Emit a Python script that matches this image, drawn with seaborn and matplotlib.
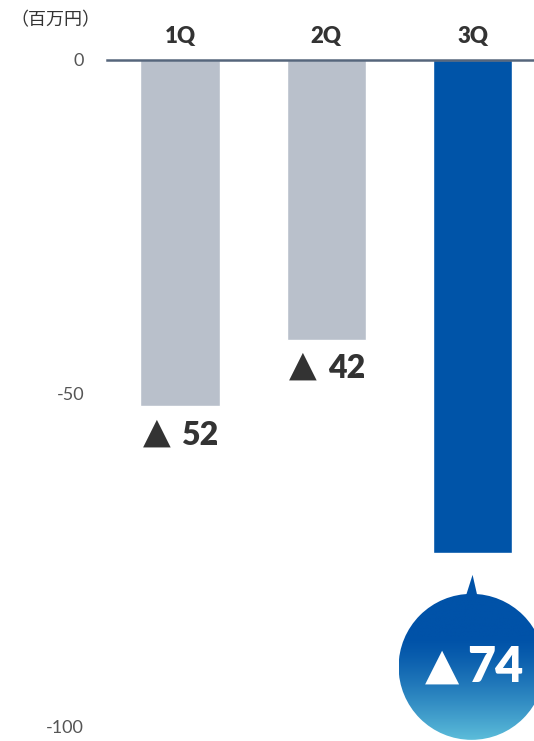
import matplotlib
matplotlib.use("Agg")
import matplotlib.pyplot as plt
import seaborn as sns
import numpy as np
from matplotlib.patches import Circle, Polygon

quarters = ["1Q", "2Q", "3Q"]
values = [-52, -42, -74]
label_nums = ["52", "42", "74"]
bar_colors = ["#b9c0cb", "#b9c0cb", "#0054a8"]
yticks = [0, -50, -100]
unit_label = "（百万円）"
neg_mark = "▲"

sns.set_theme(style="white")
plt.rcParams['font.family'] = ['Lato', 'DejaVu Sans']

W, H = 534, 741
fig = plt.figure(figsize=(W / 100, H / 100), dpi=100)
ax = fig.add_axes([107 / W, 0, 1 - 107 / W, 1 - 60 / H])

sns.barplot(x=quarters, y=values, hue=quarters, palette=bar_colors,
            width=0.545, legend=False, ax=ax, saturation=1)
ax.set_xlim(-0.5, 2.42)
ax.set_ylim(-102.25, 0)
ax.set_yticks(yticks)
ax.set_yticklabels([str(v) for v in yticks])
ax.set_xlabel("")
ax.set_ylabel("")
ax.xaxis.tick_top()
ax.tick_params(axis="x", length=0, pad=9, labelsize=16, labelcolor="#333333")
for t in ax.get_xticklabels():
    t.set_fontweight("heavy")
ax.tick_params(axis="y", length=0, pad=16.5, labelsize=13, labelcolor="#555555")
for s in ["left", "right", "bottom"]:
    ax.spines[s].set_visible(False)
ax.spines["top"].set_color("#56667c")
ax.spines["top"].set_linewidth(1.8)

# value labels under the gray bars
for i, (v, num) in enumerate(zip(values[:2], label_nums[:2])):
    ax.annotate(neg_mark, xy=(i, v), xytext=(-23.5, -26), textcoords="offset pixels",
                ha="center", va="center", fontsize=26, fontweight="bold",
                color="#333333", family=['DejaVu Sans'])
    ax.annotate(num, xy=(i, v), xytext=(20, -29), textcoords="offset pixels",
                ha="center", va="center", fontsize=23, fontweight="heavy",
                color="#333333", family=['Lato', 'DejaVu Sans'])

fig.text(10 / W, 1 - 20 / H, unit_label, ha="left", va="center", fontsize=13,
         color="#333333", family=['Noto Sans CJK JP', 'DejaVu Sans'])

# bubble for 3Q
fig.canvas.draw()
bx, by = ax.transData.transform((2, values[2]))
by = H - by
ov = fig.add_axes([0, 0, 1, 1], zorder=5)
ov.set_xlim(0, W)
ov.set_ylim(H, 0)
ov.axis("off")
r = 73
cx, cy = bx - 1, by + 114
grad = np.linspace(0, 1, 256).reshape(-1, 1)
top = np.array([0x00, 0x52, 0xa8]) / 255
bot = np.array([0x5c, 0xbd, 0xda]) / 255
tt = grad[:, 0]
w = np.clip((tt - 0.3) / 0.7, 0, 1) ** 1.3
cols = top[None, :] * (1 - w[:, None]) + bot[None, :] * w[:, None]
img = np.repeat(cols[:, None, :], 2, axis=1)
circ = Circle((cx, cy), r, transform=ov.transData, facecolor="none", edgecolor="none")
ov.add_patch(circ)
im = ov.imshow(img, extent=(cx - r, cx + r, cy + r, cy - r), aspect="auto", zorder=1)
im.set_clip_path(circ)
tri = Polygon([[cx - 6, cy - r + 3], [cx + 6, cy - r + 3], [cx + 1, by + 22]],
              closed=True, facecolor="#0052a8", edgecolor="none", zorder=2)
ov.add_patch(tri)
ov.text(cx - 30, cy - 1, neg_mark, ha="center", va="center", fontsize=32,
        fontweight="bold", color="white", zorder=3, family=['DejaVu Sans'])
ov.text(cx + 24, cy + 1, label_nums[2], ha="center", va="center", fontsize=35,
        fontweight="heavy", color="white", zorder=3, family=['Lato', 'DejaVu Sans'])
ov.set_xlim(0, W)
ov.set_ylim(H, 0)

fig.savefig("out.png", dpi=100)
